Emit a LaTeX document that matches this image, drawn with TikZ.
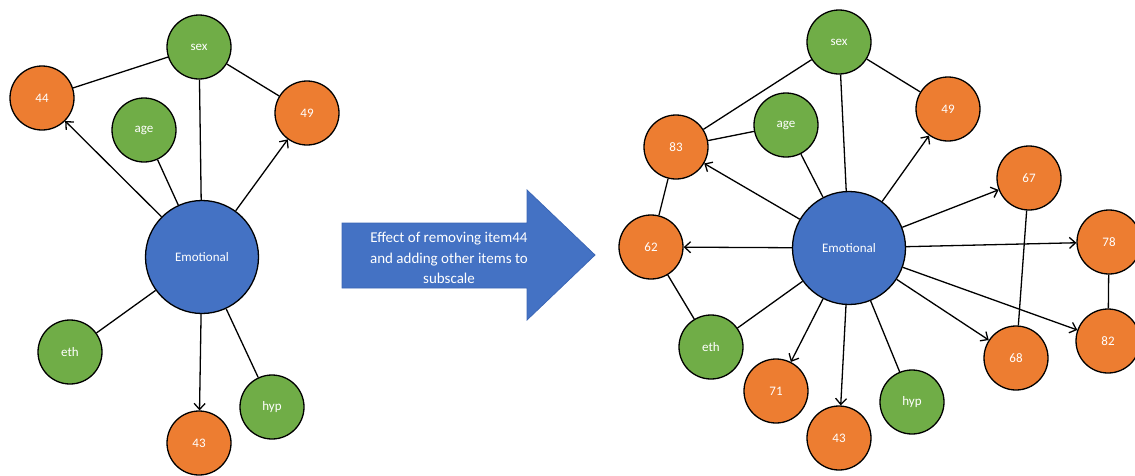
\documentclass[tikz,border=0pt]{standalone}
\usepackage{fontspec}
\setmainfont{Carlito}
\usetikzlibrary{arrows.meta}
\definecolor{itemorange}{HTML}{ED7D31}
\definecolor{covgreen}{HTML}{70AD47}
\definecolor{factorblue}{HTML}{4472C4}
\definecolor{arrowedge}{HTML}{3B66B5}
\begin{document}
\begin{tikzpicture}[x=1pt,y=-1pt,
  base/.style={circle, draw=black, line width=1.3pt, text=white,
    font=\fontsize{13}{15}\selectfont, inner sep=0pt},
  item/.style={base, fill=itemorange, minimum size=64pt},
  covar/.style={base, fill=covgreen, minimum size=64pt},
  factor/.style={base, fill=factorblue, minimum size=113pt},
  link/.style={line width=1.3pt},
  load/.style={link, -{Straight Barb[length=6pt,width=11pt]}},
]
\useasboundingbox (0,0) rectangle (1135,475);

% ---------- original subscale ----------
\node[factor] (Lemo) at (202,257) {Emotional};
\node[covar] (Lsex) at (199,47) {sex};
\node[item]  (L44)  at (42,98)  {44};
\node[covar] (Lage) at (144,130) {age};
\node[item]  (L49)  at (307,113) {49};
\node[covar] (Leth) at (70,352) {eth};
\node[item]  (L43)  at (199,443) {43};
\node[covar] (Lhyp) at (272,407) {hyp};

\draw[link] (Lsex) -- (L44);
\draw[link] (Lsex) -- (L49);
\draw[link] (Lsex) -- (Lemo);
\draw[link] (Lage) -- (Lemo);
\draw[link] (Leth) -- (Lemo);
\draw[link] (Lhyp) -- (Lemo);
\draw[load] (Lemo) -- (L44);
\draw[load] (Lemo) -- (L49);
\draw[load] (Lemo) -- (L43);

% ---------- transition arrow ----------
\path[fill=factorblue, draw=arrowedge, line width=0.8pt]
  (342,223) -- (527,223) -- (527,190) -- (595,255) -- (527,320)
  -- (527,288) -- (342,288) -- cycle;
\node[text=white, font=\fontsize{15}{20.5}\selectfont, align=center]
  (note) at (449,258) {Effect of removing item44\\and adding other items to\\subscale};

% ---------- revised subscale ----------
\node[factor] (Remo) at (849,248) {Emotional};
\node[covar] (Rsex) at (839,42)  {sex};
\node[item]  (R49)  at (948,109) {49};
\node[covar] (Rage) at (786,125) {age};
\node[item]  (R83)  at (676,147) {83};
\node[item]  (R67)  at (1029,178) {67};
\node[item]  (R62)  at (651,247) {62};
\node[item]  (R78)  at (1109,242) {78};
\node[covar] (Reth) at (711,347) {eth};
\node[item]  (R82)  at (1108,341) {82};
\node[item]  (R68)  at (1016,358) {68};
\node[item]  (R71)  at (776,391) {71};
\node[covar] (Rhyp) at (912,402) {hyp};
\node[item]  (R43)  at (839,438) {43};

\draw[link] (Rsex) -- (R83);
\draw[link] (Rsex) -- (R49);
\draw[link] (Rsex) -- (Remo);
\draw[link] (Rage) -- (R83);
\draw[link] (Rage) -- (Remo);
\draw[link] (R83) -- (R62);
\draw[link] (R62) -- (Reth);
\draw[link] (Reth) -- (Remo);
\draw[link] (Rhyp) -- (Remo);
\draw[link] (R67) -- (R68);
\draw[link] (R78) -- (R82);
\draw[load] (Remo) -- (R83);
\draw[load] (Remo) -- (R62);
\draw[load] (Remo) -- (R71);
\draw[load] (Remo) -- (R43);
\draw[load] (Remo) -- (R49);
\draw[load] (Remo) -- (R67);
\draw[load] (Remo) -- (R78);
\draw[load] (Remo) -- (R68);
\draw[load] (Remo) -- (R82);
\end{tikzpicture}
\end{document}
